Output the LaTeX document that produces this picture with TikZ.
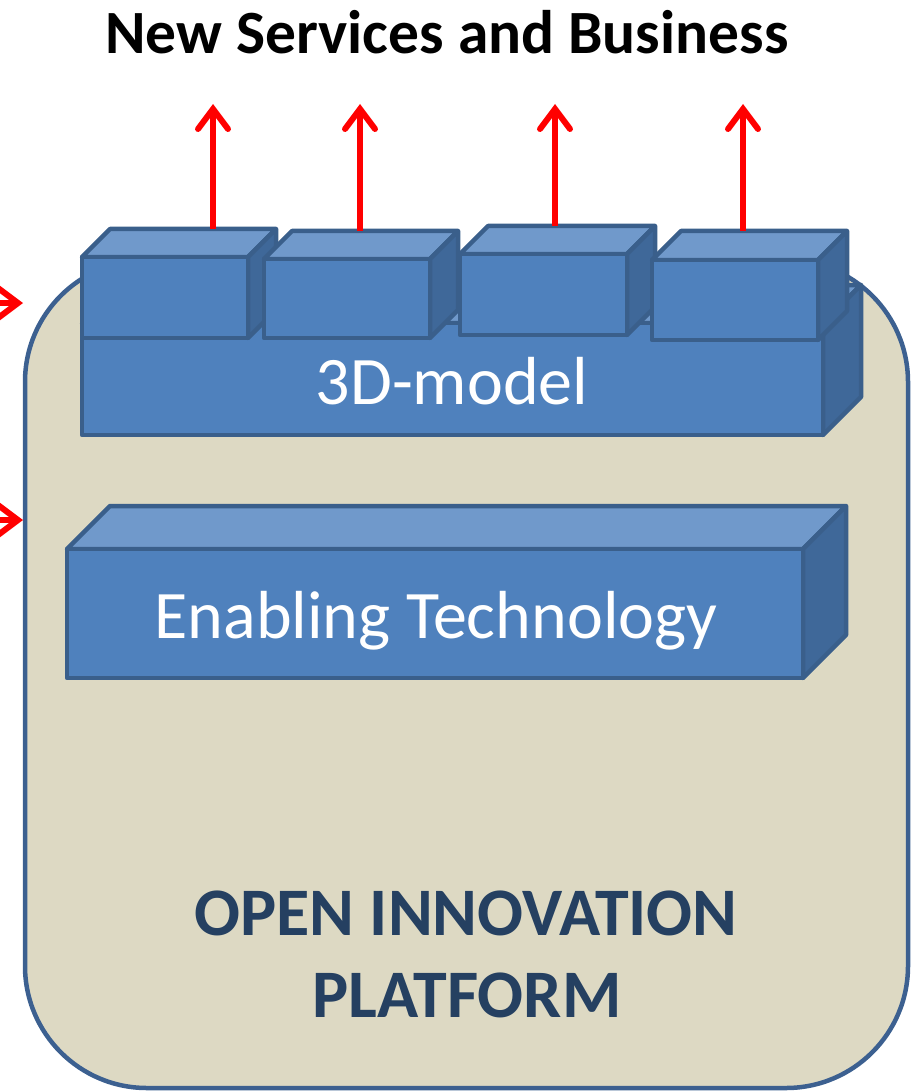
\documentclass[tikz,border=0pt]{standalone}
\usepackage{fontspec}
\setmainfont{Carlito}
\usetikzlibrary{arrows.meta}
\definecolor{platfill}{HTML}{DDD9C3}
\definecolor{platline}{HTML}{3C6090}
\definecolor{plattext}{HTML}{254061}
\definecolor{boxfront}{HTML}{4F81BD}
\definecolor{boxtop}{HTML}{7099CB}
\definecolor{boxside}{HTML}{3F6899}
\definecolor{boxline}{HTML}{3A5F8B}
% one box: name, left, top, right, bottom, depth
\newcommand{\blockbox}[6]{%
  \filldraw[boxface, fill=boxtop] (#2,#3) -- ++(#6,-#6) -- (#4+#6,#3-#6) -- (#4,#3) -- cycle;
  \filldraw[boxface, fill=boxside] (#4,#3) -- (#4+#6,#3-#6) -- (#4+#6,#5-#6) -- (#4,#5) -- cycle;
  \filldraw[boxface, fill=boxfront] (#2,#3) rectangle (#4,#5);
  \coordinate (#1) at ({(#2+#4)/2},{(#3+#5)/2});
}
\begin{document}
\begin{tikzpicture}[x=1pt,y=-1pt,
  boxface/.style={draw=boxline, line width=4.5pt, line join=round},
  redarrow/.style={draw=red, line width=6pt, -{Straight Barb[length=20pt,width=30pt,line cap=round]}},
  bigtext/.style={font=\fontsize{68}{82}\selectfont, inner sep=0pt, anchor=base}]
\useasboundingbox (0,0) rectangle (916,1091);
% The platform
\node[draw=platline, fill=platfill, line width=4.5pt, rounded corners=122pt,
  minimum width=883pt, minimum height=828pt] (platform) at (466.5,674) {};
% Arrows coming in from the left
\foreach \n/\y in {1/303,2/520}
{
  \coordinate (in\n) at (0,\y);
  \coordinate (ina\n) at (23,\y);
  \draw[redarrow] (in\n) -- (ina\n);
}
% The 3D-model with its four boxes on top
\blockbox{model}{82}{323}{823}{435}{38}
\blockbox{cube1}{82}{257}{248}{338}{28}
\blockbox{cube2}{264}{259}{430}{338}{28}
\blockbox{cube3}{460}{254}{627}{335}{28}
\blockbox{cube4}{652}{260}{818}{340}{29}
% Arrows going up to the services
\foreach \n/\x/\y in {1/213/229,2/360/231,3/555/226,4/743/231}
{
  \coordinate (up\n) at (\x,\y);
  \coordinate (out\n) at (\x,104);
  \draw[redarrow] (up\n) -- (out\n);
}
% Enabling technology
\blockbox{tech}{67}{549}{803}{678}{43}
% Texts
\node[bigtext, text=white] (modeltext) at (452,404) {3D-model};
\node[bigtext, text=white] (techtext) at (436,638) {Enabling Technology};
\node[bigtext, font=\fontsize{61.5}{72}\selectfont\bfseries] (title) at (447,54) {New Services and Business};
\node[bigtext, text=plattext, font=\fontsize{68}{82}\selectfont\bfseries] (plat1) at (466,935) {OPEN INNOVATION};
\node[bigtext, text=plattext, font=\fontsize{68}{82}\selectfont\bfseries] (plat2) at (467,1017) {PLATFORM};
\end{tikzpicture}
\end{document}
